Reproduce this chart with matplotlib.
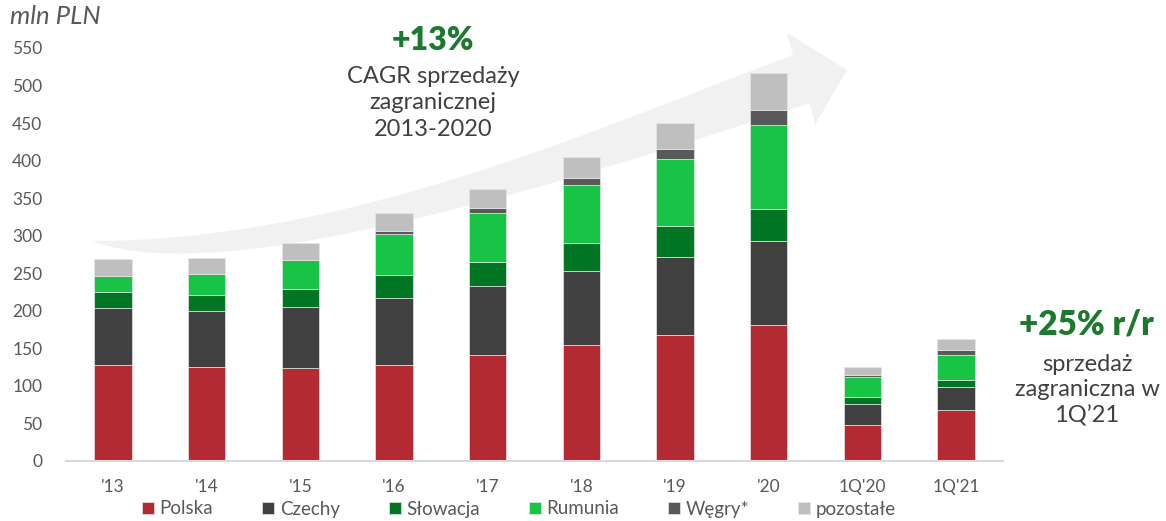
import matplotlib
matplotlib.use("Agg")
import matplotlib.pyplot as plt
import numpy as np
from matplotlib.path import Path
from matplotlib.patches import PathPatch

plt.rcParams['font.family'] = ['Lato', 'DejaVu Sans']

categories = ["'13", "'14", "'15", "'16", "'17", "'18", "'19", "'20", "1Q'20", "1Q'21"]
polska     = [127, 125, 124, 128, 140.5, 154, 167, 181, 47, 67]
czechy     = [77, 75, 81, 89, 92, 99, 104, 112, 28, 31.5]
slowacja   = [21, 21, 23.5, 30, 32, 37, 42, 43, 10, 9]
rumunia    = [20.5, 27.5, 39.5, 55, 65, 77, 89, 112, 26, 33]
wegry      = [0, 0, 0, 4.5, 7.5, 9.5, 13, 20, 3.5, 7.5]
pozostale  = [23.5, 21, 22, 24, 25.5, 28, 35, 49, 10, 14.5]

series_names = ["Polska", "Czechy", "Słowacja", "Rumunia", "Węgry*", "pozostałe"]
series_vals = [polska, czechy, slowacja, rumunia, wegry, pozostale]
colors = ["#B32A33", "#404040", "#007523", "#18C445", "#595959", "#BFBFBF"]

W, H = 1166, 521
fig = plt.figure(figsize=(W / 100, H / 100), dpi=100)
ax = fig.add_axes([66 / W, 1 - 460.7 / H, (1003 - 66) / W, (460.7 - 48) / H])

# decorative curved arrow (pixel coords -> figure fraction)
def P(x, y):
    return (x / W, 1 - y / H)

verts = [P(92, 241),
         P(350, 241), P(600, 127), P(793, 55),
         P(787, 33), P(847, 70), P(815, 125), P(810, 103),
         P(560, 185), P(220, 290), P(92, 241),
         P(92, 241)]
codes = [Path.MOVETO,
         Path.CURVE4, Path.CURVE4, Path.CURVE4,
         Path.LINETO, Path.LINETO, Path.LINETO, Path.LINETO,
         Path.CURVE4, Path.CURVE4, Path.CURVE4,
         Path.CLOSEPOLY]
arrow = PathPatch(Path(verts, codes), facecolor="#F1F1F1", edgecolor="none",
                  transform=fig.transFigure, zorder=1, clip_on=False)
ax.add_artist(arrow)

x = np.arange(len(categories))
bottom = np.zeros(len(categories))
handles = []
for name, vals, c in zip(series_names, series_vals, colors):
    v = np.array(vals, dtype=float)
    b = ax.bar(x, v, 0.4, bottom=bottom, color=c, edgecolor="#e6e6e6",
               linewidth=0.5, label=name, zorder=3)
    handles.append(b)
    bottom += v

ax.set_xlim(-0.5, len(categories) - 0.5)
ax.set_ylim(0, 550)
ax.set_yticks(np.arange(0, 551, 50))
ax.set_xticks(x)
ax.set_xticklabels(categories)
ax.tick_params(axis='both', length=0, labelsize=12.5, labelcolor="#595959")
ax.tick_params(axis='y', pad=17)
ax.tick_params(axis='x', pad=13)
for s in ["top", "right", "left"]:
    ax.spines[s].set_visible(False)
ax.spines["bottom"].set_color("#D9D9D9")
ax.spines["bottom"].set_linewidth(1.5)
ax.spines["bottom"].set_zorder(4)

fig.text(10 / W, 1 - 17 / H, "mln PLN", fontsize=18.5, style="italic",
         color="#595959", ha="left", va="center")

fig.text(433 / W, 1 - 40 / H, "+13%", fontsize=23, fontweight="heavy",
         color="#1B7A2E", ha="center", va="center")
fig.text(433 / W, 1 - 103 / H, "CAGR sprzedaży\nzagranicznej\n2013-2020",
         fontsize=17, color="#404040", ha="center", va="center", linespacing=1.32)

fig.text(1086 / W, 1 - 325 / H, "+25% r/r", fontsize=24, fontweight="heavy",
         color="#1B7A2E", ha="center", va="center")
fig.text(1087 / W, 1 - 390 / H, "sprzedaż\nzagraniczna w\n1Q’21",
         fontsize=17, color="#404040", ha="center", va="center", linespacing=1.27)

leg = fig.legend(handles=handles, labels=series_names, loc="center",
                 bbox_to_anchor=(519 / W, 1 - 509 / H), ncol=6, frameon=False,
                 fontsize=13.5, handlelength=0.65, handleheight=0.65,
                 handletextpad=0.3, columnspacing=2.6)
for t in leg.get_texts():
    t.set_color("#595959")

fig.savefig("out.png", dpi=100)
